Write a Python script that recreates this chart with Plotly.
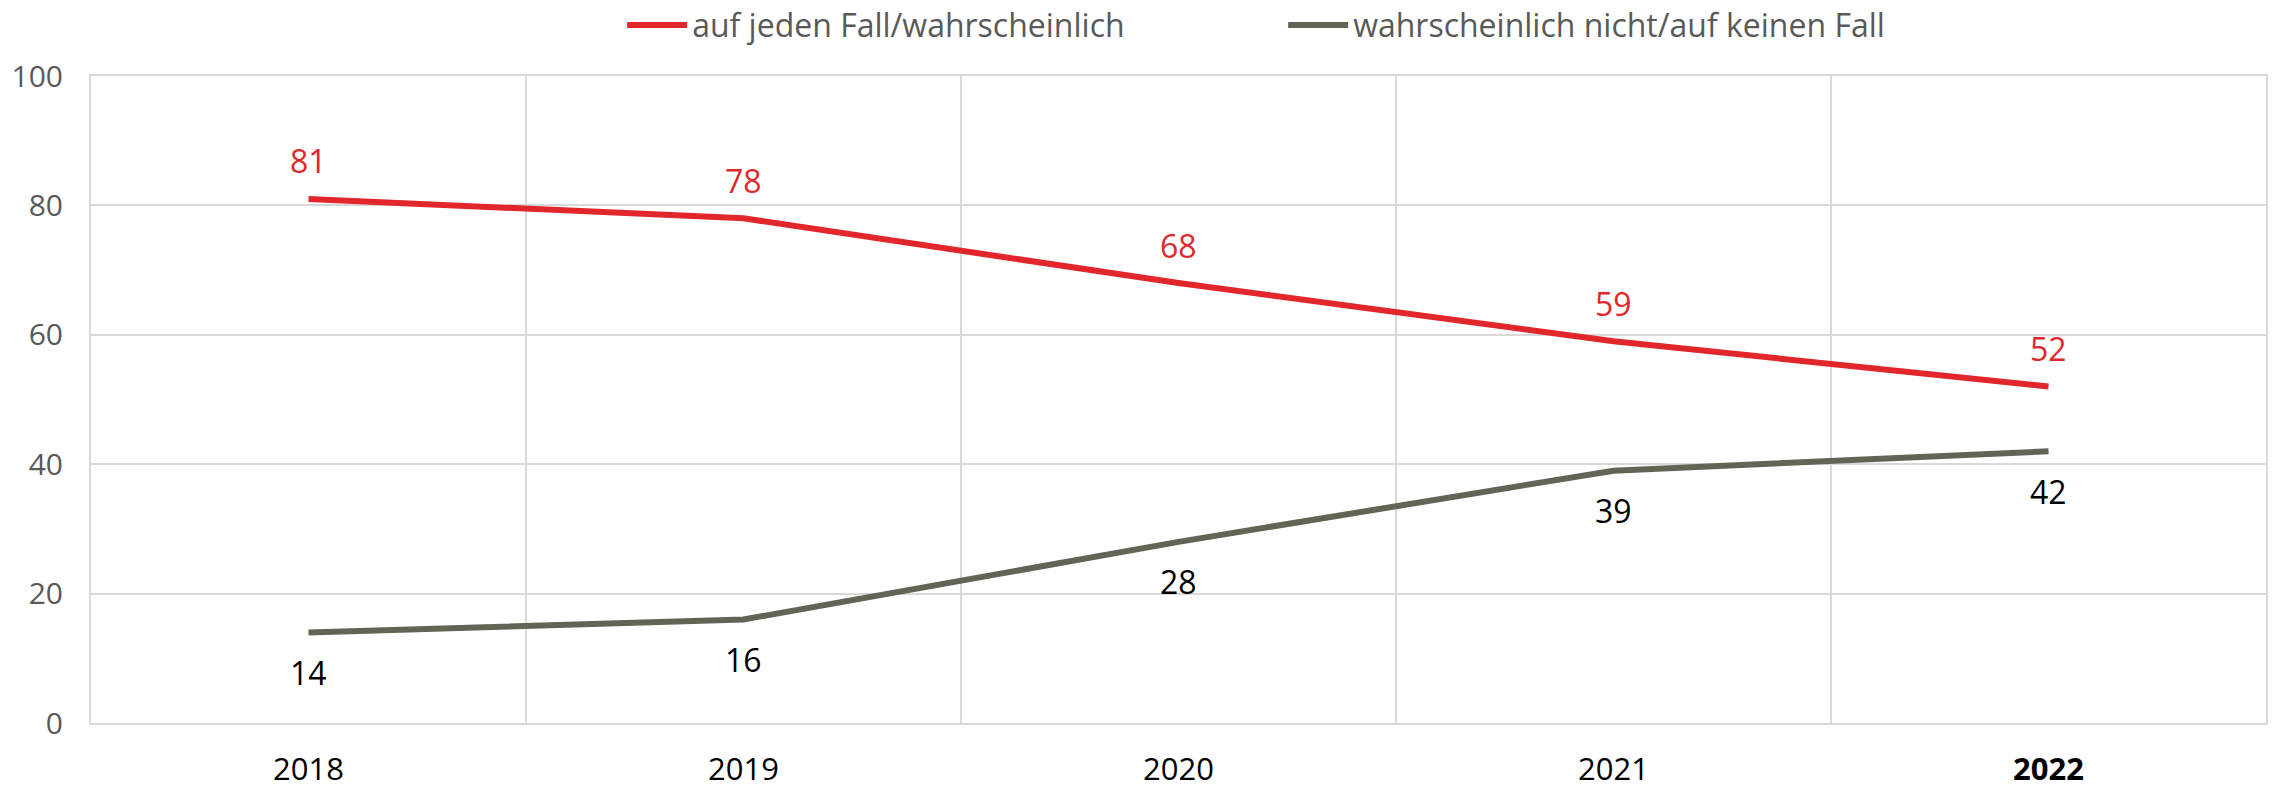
import plotly.graph_objects as go

years = ["2018", "2019", "2020", "2021", "2022"]
tick_labels = ["2018", "2019", "2020", "2021", "<b>2022</b>"]
yes_values = [81, 78, 68, 59, 52]
no_values = [14, 16, 28, 39, 42]
yes_name = "auf jeden Fall/wahrscheinlich"
no_name = "wahrscheinlich nicht/auf keinen Fall"

RED = "#E1272B"
GREY = "#646456"
GRID = "#D9D9D9"
FONT = "Open Sans"

fig = go.Figure()
fig.add_trace(go.Scatter(x=years, y=yes_values, name=yes_name, mode="lines",
                         line=dict(color=RED, width=6), hoverinfo="skip"))
fig.add_trace(go.Scatter(x=years, y=no_values, name=no_name, mode="lines",
                         line=dict(color=GREY, width=6), hoverinfo="skip"))

annotations = []
for i, v in enumerate(yes_values):
    annotations.append(dict(x=i, y=v, xref="x", yref="y", text=str(v), showarrow=False,
                            yshift=38, font=dict(family=FONT, size=32, color=RED)))
for i, v in enumerate(no_values):
    annotations.append(dict(x=i, y=v, xref="x", yref="y", text=str(v), showarrow=False,
                            yshift=-40, font=dict(family=FONT, size=32, color="#000000")))

fig.update_layout(
    width=2282, height=778,
    margin=dict(l=83, r=24, t=68, b=63, autoexpand=False),
    paper_bgcolor="white", plot_bgcolor="white",
    font=dict(family=FONT, color="#595959"),
    showlegend=True,
    legend=dict(orientation="h", x=0.2442, xanchor="left",
                yref="container", y=0.978, yanchor="middle",
                font=dict(family=FONT, size=32, color="#595959"),
                entrywidth=586, itemwidth=60, bgcolor="rgba(0,0,0,0)"),
    annotations=annotations,
)
fig.update_xaxes(
    type="category", range=[-0.5, 4.5], automargin=False,
    tickmode="array", tickvals=years, ticktext=tick_labels,
    tickson="boundaries", showgrid=True, gridcolor=GRID, gridwidth=2,
    showline=True, mirror=True, linecolor=GRID, linewidth=2,
    ticks="", ticklabelstandoff=18,
    tickfont=dict(family=FONT, size=31, color="#000000"),
)
fig.update_yaxes(
    range=[0, 100], tickmode="array", tickvals=[0, 20, 40, 60, 80, 100],
    automargin=False,
    showgrid=True, gridcolor=GRID, gridwidth=2, zeroline=False,
    showline=True, mirror=True, linecolor=GRID, linewidth=2,
    ticks="", ticklabelstandoff=20,
    tickfont=dict(family=FONT, size=30, color="#595959"),
)

fig.write_html("out.html")
